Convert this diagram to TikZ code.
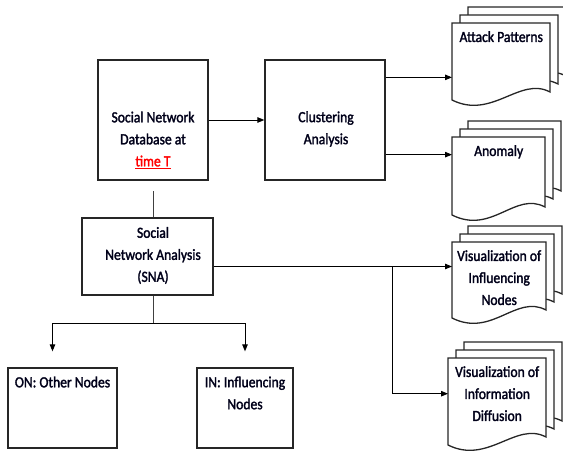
\documentclass[tikz,border=0pt]{standalone}
\usepackage{fontspec}
\setmainfont{Carlito}[FakeStretch=0.88, FakeBold=1.8]
\usetikzlibrary{arrows.meta, positioning, calc}

% stack of three documents: name, x, y (top left of front sheet), width, height, text
\newcommand{\docstack}[6]{%
  \foreach \o in {16,8,0}
    \draw[doc] (#2+\o,#3-\o) -- (#2+#4+\o,#3-\o) -- (#2+#4+\o,#3+#5-\o-8)
      .. controls (#2+#4+\o-30,#3+#5-\o-24) and (#2+\o+40,#3+#5-\o+20) .. (#2+\o,#3+#5-\o) -- cycle;
  \node[docbody, minimum width=#4pt, minimum height=#5pt, anchor=north west] (#1) at (#2,#3) {};
  \node[txt, anchor=north] (#1text) at ([yshift=-8pt]#1.north) {#6};
}

\begin{document}
\begin{tikzpicture}[
    x=1pt, y=-1pt,
    font=\fontsize{15.5}{22}\selectfont,
    box/.style={rectangle, draw=black!85, line width=1.3pt, inner sep=0pt},
    docbody/.style={rectangle, inner sep=0pt},
    txt/.style={align=center, inner sep=0pt, text=black!90!blue},
    doc/.style={draw=black!85, line width=1.3pt, fill=white},
    arrow/.style={-{Triangle[length=7pt, width=5.5pt]}, line width=0.9pt, draw=black},
    link/.style={line width=0.9pt, draw=black!75}
]
\useasboundingbox (0,0) rectangle (563,453);
% ---------------- boxes ----------------
\node[box, minimum width=110pt, minimum height=120pt] (db) at (153,120) {};
\node[txt] (dbtext) at (153,140) {Social Network\\Database at\\\textcolor{red}{\underline{time T}}};
\node[box, minimum width=120pt, minimum height=120pt] (clus) at (325,120) {};
\node[txt] (clustext) at (326,129) {Clustering\\Analysis};
\node[box, minimum width=131pt, minimum height=77pt] (sna) at (147.5,256.5) {};
\node[txt] (snatext) at (153,255.5) {Social\\Network Analysis\\(SNA)};
\node[box, minimum width=109pt, minimum height=80pt] (on) at (62.5,408) {};
\node[txt, anchor=north] (ontext) at ([yshift=-9pt]on.north) {ON: Other Nodes};
\node[box, minimum width=96pt, minimum height=80pt] (in) at (245,408) {};
\node[txt, anchor=north] (intext) at ([yshift=-9pt]in.north) {IN: Influencing\\Nodes};
% ---------------- outputs ----------------
\docstack{ap}{452}{23}{98}{77}{Attack Patterns}
\docstack{an}{452}{137}{93}{78}{Anomaly}
\docstack{vi}{452}{242}{94}{76}{Visualization of\\Influencing\\Nodes}
\docstack{vd}{448}{358}{98}{87}{Visualization of\\Information\\Diffusion}
% ---------------- arrows ----------------
\draw[arrow] (db) -- (clus);
\coordinate (c1) at ([yshift=-18pt]clus.north east);
\draw[arrow] (c1) -- (c1 -| ap.west);
\coordinate (c2) at ([yshift=26pt]clus.south east);
\draw[arrow] (c2) -- (c2 -| an.west);
\coordinate (s1) at ([yshift=-10pt]sna.east);
\draw[arrow] (s1) -- (s1 -| vi.west);
\coordinate (br) at ([xshift=-60pt]s1 -| vi.west);
\coordinate (d1) at ([yshift=8pt]vd.west);
\draw[arrow] (br) |- (d1);
% SNA tree
\draw[link] (db.south |- sna.north) -- ++(0,-26);
\draw[link] (db.south |- sna.south) -- ++(0,28) coordinate (split);
\coordinate (ontip) at ([xshift=-10pt, yshift=16pt]on.north);
\coordinate (intip) at ([yshift=16pt]in.north);
\draw[arrow] (split) -| (ontip);
\draw[arrow] (split) -| (intip);
\end{tikzpicture}
\end{document}
